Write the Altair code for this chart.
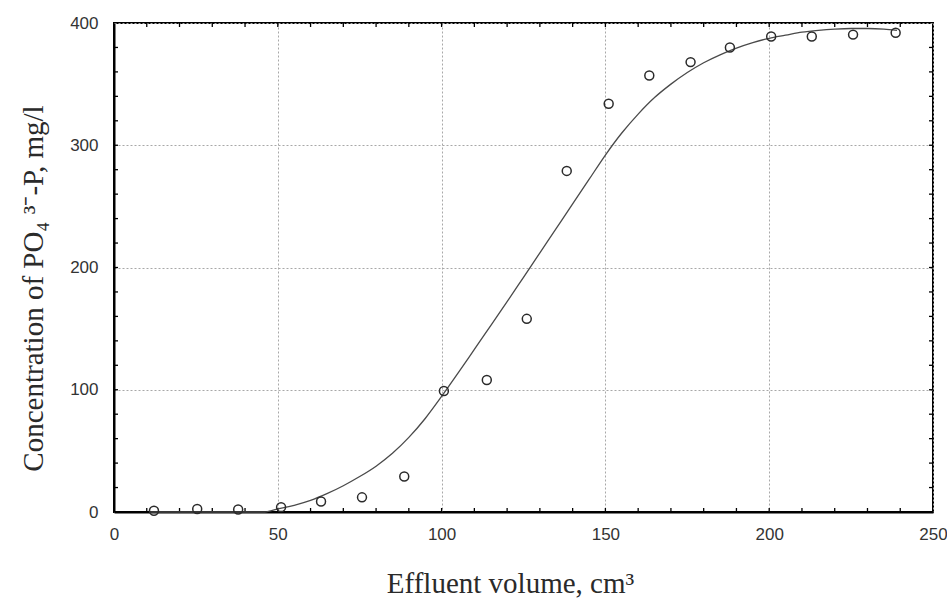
import altair as alt
import pandas as pd

# measured data points
vol = [12.2, 25.4, 37.9, 51.0, 63.2, 75.7, 88.6, 100.7, 113.8, 126.0, 138.2, 151.0,
       163.4, 176.0, 188.0, 200.6, 213.0, 225.6, 238.6]
conc = [1, 2.5, 2, 4, 8.6, 12, 29, 99, 108, 158, 279, 334, 357, 368, 380, 389, 389, 390.5, 392]

# fitted curve
fit_x = [11, 20, 30, 40, 46, 50, 55, 60, 65, 70, 75, 80, 85, 90, 95, 100, 105, 110, 115, 120,
         125, 130, 135, 140, 145, 150, 155, 160, 165, 170, 175, 180, 185, 190, 195, 200, 205,
         210, 215, 220, 225, 230, 235, 239]
fit_y = [0, 0, 0, 0, 0, 2.5, 5.5, 9.5, 15, 21.5, 29, 37.5, 48, 61, 76.5, 94.5, 113.5, 133, 152.5,
         172, 192, 212, 232, 252, 272, 292, 310, 325.5, 339, 350, 359.5, 367.5, 374, 379.5, 384,
         387.5, 390, 392.5, 394, 395, 395.5, 395.5, 395, 394]

x_major = [0, 50, 100, 150, 200, 250]
y_major = [0, 100, 200, 300, 400]
x_minor = [10, 20, 30, 40, 50, 60, 70, 80, 90, 100, 110, 120, 130, 140, 150, 160, 170, 180,
           190, 200, 210, 220, 230, 240]
y_minor = [20, 40, 60, 80, 100, 120, 140, 160, 180, 200, 220, 240, 260, 280, 300, 320, 340,
           360, 380]

W, H = 819, 489
INK = "#2a2a2a"

pts = pd.DataFrame({"vol": vol, "conc": conc})
fit = pd.DataFrame({"vol": fit_x, "conc": fit_y})
xt = pd.DataFrame({"v": x_minor})
yt = pd.DataFrame({"v": y_minor})

xs = alt.Scale(domain=[0, 250], nice=False, zero=False)
ys = alt.Scale(domain=[0, 400], nice=False, zero=False)

xaxis = alt.Axis(values=x_major, grid=True, gridDash=[2, 2], gridColor="#a8a8a8",
                 gridWidth=1, ticks=False, tickSize=0, domainColor="black", domainWidth=2,
                 labelFont="Liberation Sans", labelFontSize=17, labelColor="#333333",
                 labelPadding=14, labelFlush=False,
                 title="Effluent volume, cm³", titleFont="Liberation Serif",
                 titleFontSize=29, titleFontWeight="normal", titleColor=INK,
                 titleX=396, titleY=80, titleAlign="center", titleBaseline="alphabetic")
yaxis = alt.Axis(values=y_major, grid=True, gridDash=[2, 2], gridColor="#a8a8a8",
                 gridWidth=1, ticks=False, tickSize=0, domainColor="black", domainWidth=2,
                 labelFont="Liberation Sans", labelFontSize=17, labelColor="#333333",
                 labelPadding=16, labelFlush=False,
                 title="Concentration of PO₄ ³⁻-P, mg/l", titleFont="Liberation Serif",
                 titleFontSize=29, titleFontWeight="normal", titleColor=INK,
                 titleX=-72, titleY=265, titleAngle=270, titleAlign="center",
                 titleBaseline="alphabetic")

curve = alt.Chart(fit).mark_line(color="#4a4a4a", strokeWidth=1.3,
                                 interpolate="monotone").encode(
    x=alt.X("vol:Q", scale=xs, axis=xaxis),
    y=alt.Y("conc:Q", scale=ys, axis=yaxis),
)
circles = alt.Chart(pts).mark_point(shape="circle", filled=False, size=80,
                                    color=INK, strokeWidth=1.5, opacity=1).encode(
    x=alt.X("vol:Q", scale=xs),
    y=alt.Y("conc:Q", scale=ys),
)
tick_bottom = alt.Chart(xt).mark_rule(color="black", strokeWidth=1.3).encode(
    x=alt.X("v:Q", scale=xs), y=alt.value(H), y2=alt.value(H - 4))
tick_top = alt.Chart(xt).mark_rule(color="black", strokeWidth=1.3).encode(
    x=alt.X("v:Q", scale=xs), y=alt.value(0), y2=alt.value(4))
tick_left = alt.Chart(yt).mark_rule(color="black", strokeWidth=1.3).encode(
    y=alt.Y("v:Q", scale=ys), x=alt.value(0), x2=alt.value(4))
tick_right = alt.Chart(yt).mark_rule(color="black", strokeWidth=1.3).encode(
    y=alt.Y("v:Q", scale=ys), x=alt.value(W), x2=alt.value(W - 4))

chart = alt.layer(tick_bottom, tick_top, tick_left, tick_right, curve, circles).properties(
    width=W, height=H,
    autosize=alt.AutoSizeParams(type="none"),
    padding={"left": 114, "top": 23, "right": 14, "bottom": 87},
    background="white",
).configure_view(stroke="black", strokeWidth=2)

chart.save("out.html", embed_options={"renderer": "svg", "actions": False})
